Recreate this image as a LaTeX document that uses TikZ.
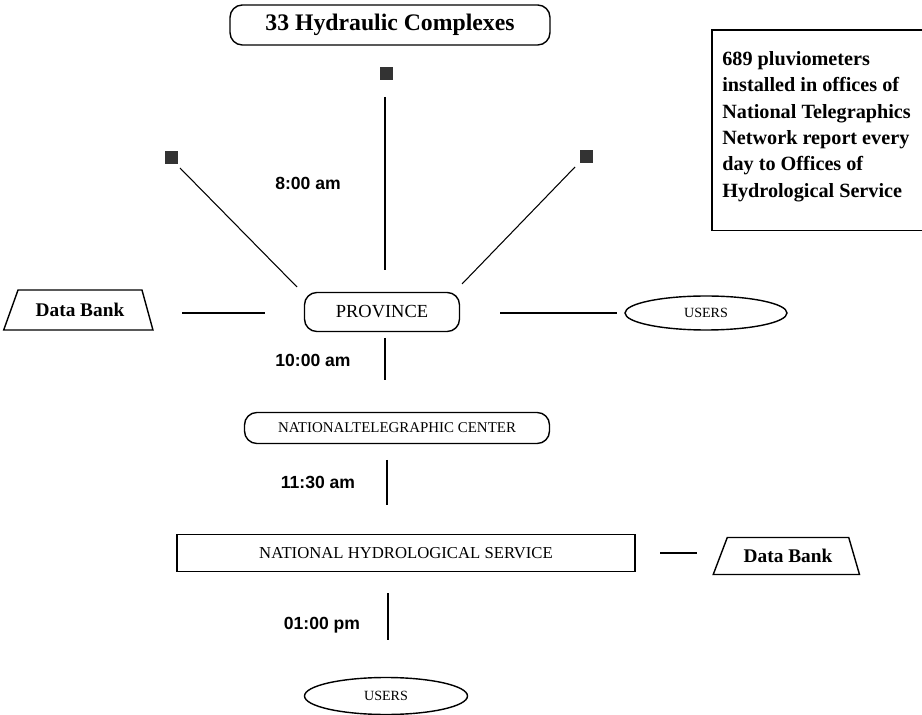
\documentclass[tikz,border=0pt]{standalone}
\usepackage{fontspec}
\setmainfont{Liberation Serif}
\newfontfamily\timefont{Liberation Sans}
\usetikzlibrary{shapes.geometric}

\tikzset{
  rbox/.style={draw, thick, rounded corners=7pt, inner sep=0pt},
  users/.style={draw, thick, ellipse, inner sep=0pt, font=\fontsize{8}{9}\selectfont},
  bank/.style={draw, thick, trapezium, trapezium stretches=true,
    trapezium left angle=53, trapezium right angle=60, inner sep=0pt,
    font=\bfseries\fontsize{11}{13}\selectfont},
  gauge/.style={fill=black!80, minimum size=0.26cm, inner sep=0pt},
  hour/.style={font=\timefont\bfseries\fontsize{10}{12}\selectfont},
  link/.style={semithick},
}

\begin{document}
\begin{tikzpicture}[x=0.02cm, y=-0.02cm]
\useasboundingbox (0,0) rectangle (922,715);

% top of the network
\node[rbox, minimum width=6.4cm, minimum height=0.8cm, font=\bfseries\fontsize{13.5}{16}\selectfont] (hyd) at (390,25) {33 Hydraulic Complexes};
\node[gauge] (gT) at (386,74) {};
\node[gauge] (gL) at (171,158) {};
\node[gauge] (gR) at (586,157) {};

% note box, its right side runs off the page
\node[anchor=north west, minimum width=4.8cm, minimum height=4cm, inner sep=0pt] (note) at (712,30) {};
\draw[thick] (note.north east) -- (note.north west) -- (note.south west) -- (note.south east);
\node[anchor=north west, align=left, inner sep=0pt, font=\bfseries\fontsize{11.5}{15}\selectfont] (notetext) at (722,51)
  {689 pluviometers\\installed in offices of\\National Telegraphics\\Network report every\\day to Offices of\\Hydrological Service};

\node[hour] (t8) at (308,183) {8:00 am};

% province level
\node[rbox, minimum width=3.1cm, minimum height=0.78cm, font=\fontsize{10.5}{13}\selectfont] (prov) at (382,312) {PROVINCE};
\node[bank, minimum width=3cm, minimum height=0.8cm] (bankL) at (80,310) {Data Bank};
\node[users, minimum width=3.24cm, minimum height=0.68cm] (usrR) at (706,313) {USERS};

\coordinate (gTb) at (385,97);
\coordinate (gLb) at (180,168);
\coordinate (gRb) at (575,167);
\coordinate (pT) at (385,270);
\coordinate (pL) at (297,287);
\coordinate (pR) at (462,284);
\draw[link] (gTb) -- (pT);
\draw[link] (gLb) -- (pL);
\draw[link] (gRb) -- (pR);

\coordinate (bL1) at (182,313);
\coordinate (bL2) at (265,313);
\coordinate (uR1) at (500,313);
\coordinate (uR2) at (617,313);
\draw[link] (bL1) -- (bL2);
\draw[link] (uR1) -- (uR2);

% telegraph center
\node[hour] (t10) at (313,360) {10:00 am};
\coordinate (a1) at (385,338);
\coordinate (a2) at (385,380);
\draw[thick] (a1) -- (a2);
\node[rbox, minimum width=6.1cm, minimum height=0.62cm, font=\fontsize{8.5}{10}\selectfont] (ntc) at (397,428) {NATIONALTELEGRAPHIC CENTER};

% hydrological service
\node[hour] (t11) at (318,482) {11:30 am};
\coordinate (b1) at (387,460);
\coordinate (b2) at (387,505);
\draw[thick] (b1) -- (b2);
\node[draw, thick, minimum width=9.16cm, minimum height=0.74cm, inner sep=0pt, font=\fontsize{9.5}{11}\selectfont] (nhs) at (406,553) {NATIONAL HYDROLOGICAL SERVICE};
\coordinate (c1) at (660,553);
\coordinate (c2) at (697,553);
\draw[thick] (c1) -- (c2);
\node[bank, minimum width=2.94cm, minimum height=0.74cm] (bankR) at (788,556) {Data Bank};

% users
\node[hour] (t13) at (322,625) {01:00 pm};
\coordinate (d1) at (388,593);
\coordinate (d2) at (388,640);
\draw[thick] (d1) -- (d2);
\node[users, minimum width=3.26cm, minimum height=0.74cm] (usrB) at (386,696) {USERS};
\end{tikzpicture}
\end{document}
